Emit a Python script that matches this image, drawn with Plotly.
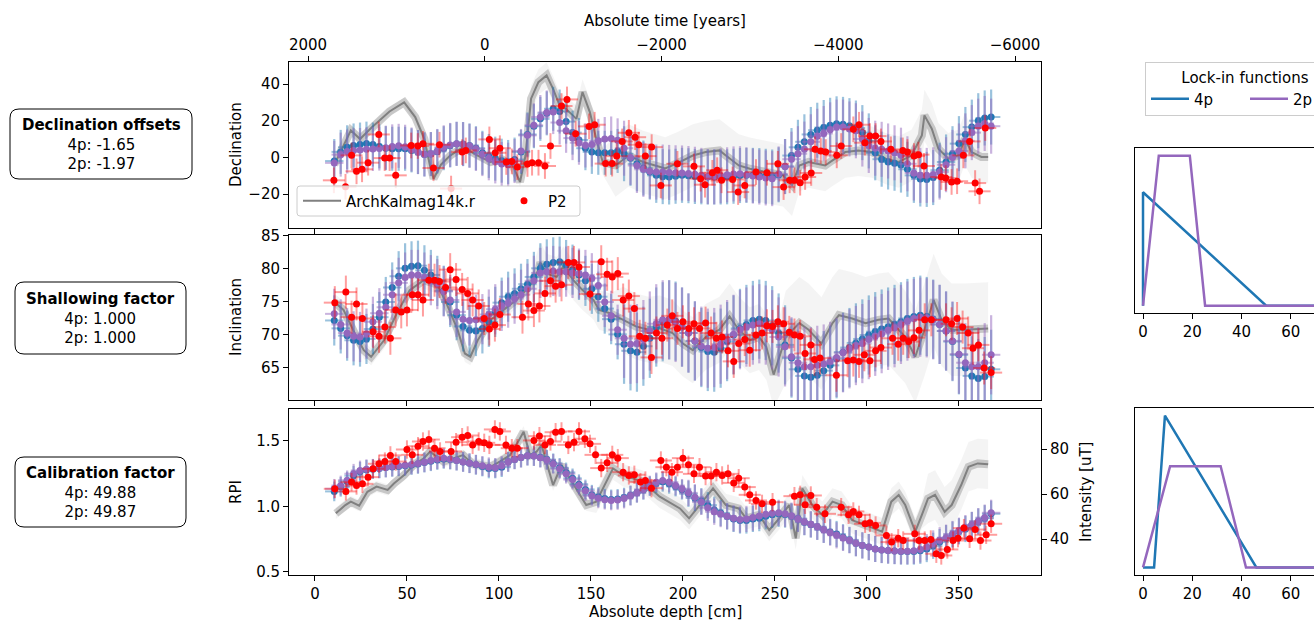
import plotly.graph_objects as go

W, H = 1314, 623

# ------------------------------------------------------------------ data
# model (lock-in 4p / 2p) predictions at sample depths [cm]
model_depth = [10.5, 14, 17.5, 21, 24.5, 28, 31.5, 35, 38.5, 42,
               45.5, 49, 52.5, 56, 59.5, 63, 66.5, 70, 73.5, 77,
               80.5, 84, 87.5, 91, 94.5, 98, 101.5, 105, 108.5, 112,
               115.5, 119, 122.5, 126, 129.5, 133, 136.5, 140, 143.5, 147,
               150.5, 154, 157.5, 161, 164.5, 168, 171.5, 175, 178.5, 182,
               185.5, 189, 192.5, 196, 199.5, 203, 206.5, 210, 213.5, 217,
               220.5, 224, 227.5, 231, 234.5, 238, 241.5, 245, 248.5, 252,
               255.5, 259, 262.5, 266, 269.5, 273, 276.5, 280, 283.5, 287,
               290.5, 294, 297.5, 301, 304.5, 308, 311.5, 315, 318.5, 322,
               325.5, 329, 332.5, 336, 339.5, 343, 346.5, 350, 353.5, 357,
               360.5, 364, 367.5]

dec_4p = [-2, 3, 5.5, 6.5, 7, 7.5, 7, 6, 5, 4.7,
          4.7, 4.7, 3.8, 2.9, 1.6, 1.8, 3.2, 5, 6.5, 7.4,
          7.3, 6.5, 5, 2.5, 0.8, -0.7, -1.8, -2.5, -1.2, 3,
          12.5, 17, 21, 24, 26.5, 25, 19.5, 13.5, 9.5, 5,
          3, 2.5, 2.5, 2.5, 3.5, 2, -0.5, -3.5, -5.8, -8,
          -9.8, -10.5, -10.7, -10.3, -9.8, -10, -10.4, -10.6, -10.7, -10.7,
          -10.7, -10.6, -10.3, -9.9, -9.8, -9.8, -9.9, -10.3, -10.7, -9.5,
          -5, 1, 5.5, 8.5, 12.5, 14.8, 16.3, 17.5, 18.3, 18,
          17.3, 16, 13.5, 9, 2.5, -1, -2.5, -3.2, -4.2, -6.5,
          -9.8, -11.8, -12, -11, -7, -2.5, 2, 7.5, 12.5, 16.5,
          20, 21.5, 22]
dec_2p = [-3, 1.5, 3.2, 3.8, 4, 4.4, 4.6, 4.8, 5.3, 6,
          6.3, 5.8, 4.3, 2.9, 1.6, 1.8, 3.5, 5.5, 6.8, 7.4,
          7.2, 6.3, 4.6, 1.8, -0.5, -2.2, -3.6, -4, -2, 3.5,
          12, 17.5, 22, 24.5, 24.7, 19, 14.5, 10.5, 8, 6.5,
          7, 9, 10, 10.3, 9.3, 5, 0, -4.4, -6.5, -7.5,
          -8, -8, -8.2, -8.4, -8.5, -8.8, -9.2, -9.8, -10.5, -10.6,
          -10, -9.5, -9, -8.9, -9.5, -10.2, -10.7, -11.2, -11.6, -9,
          -5, -1, 2, 4.5, 8.5, 11.5, 13, 15, 16.5, 16.5,
          15.5, 14.5, 10, 6.5, 5, 4.4, 3.5, 2.5, 1.2, -3.5,
          -8.5, -9.8, -9.8, -9.5, -8, -4, 0, 3.5, 9, 13.5,
          17, 18.5, 17]
inc_4p = [72.2, 71, 69.9, 69.2, 69, 69.4, 70.9, 72.7, 75, 77.2,
          78.9, 80.1, 80.4, 80.5, 79.8, 79.1, 78.2, 76.7, 75, 73,
          71.3, 70.7, 70.6, 71, 72, 73.5, 74.9, 75.8, 76.3, 77,
          77.7, 78.8, 80.1, 80.7, 81, 81.1, 80.6, 79.9, 79.1, 78.2,
          77, 75.8, 74, 72.4, 70.1, 68.6, 67.6, 67.4, 68.3, 69.5,
          71.2, 72, 72.3, 72.1, 71.2, 70.3, 69.1, 68.1, 67.5, 67.4,
          68, 69, 70, 71, 71.6, 72.2, 72.4, 72.2, 71.4, 70.3,
          68.5, 66.5, 64.8, 63.8, 63.6, 63.9, 64.6, 65.4, 66.4, 67.4,
          68.1, 68.8, 69.4, 70, 70.5, 70.9, 71.2, 71.6, 72, 72.5,
          72.8, 73, 72.8, 72.4, 71.6, 70.6, 69, 67, 65, 63.8,
          63.4, 63.7, 64.8]
inc_2p = [73.2, 71.6, 70.3, 69.8, 69.7, 70.2, 72, 73.3, 74.2, 76.1,
          77.9, 78.7, 79.1, 79.1, 78.7, 78.3, 77.7, 76.6, 75.3, 73.5,
          72.4, 72.2, 72.3, 72.4, 73.1, 73.9, 74.4, 74.9, 75.5, 76.1,
          77, 78.2, 79.4, 79.6, 79.7, 79.6, 79.6, 79.4, 79.3, 79.1,
          78.6, 77.5, 75, 72.9, 70.8, 69.5, 68.6, 68.7, 69.3, 70.6,
          71.7, 72.3, 72.3, 71.9, 71.2, 70.3, 69.1, 68.3, 68, 68.1,
          68.6, 69.3, 70.1, 70.8, 71.2, 71.5, 71.7, 71.5, 70.8, 69.7,
          68.2, 66.7, 65.8, 65.2, 65.2, 65.4, 65.6, 66, 66.6, 67.3,
          67.9, 68.4, 68.7, 69.3, 69.8, 70.2, 70.7, 71.1, 71.6, 72.1,
          72.5, 72.7, 72.6, 72.3, 71.6, 70.6, 69.1, 67.1, 65.8, 65.2,
          65.2, 65.8, 67]
rpi_4p = [1.115, 1.15, 1.19, 1.235, 1.265, 1.28, 1.285, 1.29, 1.297, 1.302,
          1.306, 1.311, 1.317, 1.325, 1.335, 1.345, 1.355, 1.363, 1.358, 1.35,
          1.34, 1.33, 1.318, 1.305, 1.29, 1.29, 1.3, 1.34, 1.36, 1.373,
          1.388, 1.385, 1.375, 1.358, 1.33, 1.295, 1.26, 1.215, 1.17, 1.13,
          1.09, 1.072, 1.06, 1.054, 1.058, 1.068, 1.085, 1.105, 1.127, 1.155,
          1.178, 1.188, 1.173, 1.152, 1.128, 1.097, 1.065, 1.04, 1.01, 0.975,
          0.95, 0.925, 0.905, 0.893, 0.893, 0.905, 0.911, 0.925, 0.937, 0.944,
          0.938, 0.925, 0.907, 0.88, 0.862, 0.845, 0.822, 0.806, 0.79, 0.765,
          0.745, 0.72, 0.703, 0.69, 0.676, 0.668, 0.664, 0.66, 0.657, 0.656,
          0.656, 0.662, 0.675, 0.7, 0.728, 0.758, 0.785, 0.81, 0.828, 0.858,
          0.885, 0.91, 0.944]
rpi_2p = [1.135, 1.16, 1.2, 1.25, 1.275, 1.285, 1.288, 1.292, 1.298, 1.305,
          1.31, 1.314, 1.32, 1.328, 1.337, 1.35, 1.36, 1.368, 1.36, 1.35,
          1.34, 1.33, 1.32, 1.31, 1.3, 1.295, 1.31, 1.34, 1.36, 1.373,
          1.388, 1.385, 1.372, 1.355, 1.325, 1.288, 1.25, 1.205, 1.16, 1.118,
          1.082, 1.062, 1.052, 1.046, 1.05, 1.06, 1.082, 1.105, 1.13, 1.16,
          1.185, 1.198, 1.186, 1.16, 1.135, 1.104, 1.07, 1.035, 0.99, 0.96,
          0.942, 0.925, 0.91, 0.9, 0.905, 0.915, 0.928, 0.94, 0.948, 0.952,
          0.944, 0.93, 0.905, 0.882, 0.865, 0.845, 0.822, 0.8, 0.78, 0.76,
          0.742, 0.72, 0.703, 0.69, 0.676, 0.668, 0.664, 0.66, 0.658, 0.658,
          0.662, 0.672, 0.69, 0.718, 0.742, 0.762, 0.79, 0.815, 0.835, 0.86,
          0.888, 0.915, 0.952]

# model uncertainties (estimated half-widths)
dec_model_err = [12.0] * 45 + [15.0] * 58
inc_model_err = [3.8] * 45 + [6.0] * 58
rpi_model_err = [0.075] * 55 + [0.1] * 48
model_depth_err = 5.0

# P2 sediment data
p2_dec_depth = [10.3, 16.6, 19.9, 22.6, 25.6, 28.9, 34.7, 37.9, 40.6, 43.9,
                52.3, 55.9, 58.7, 64.4, 67.7, 74, 80, 82, 94.8, 98,
                100.5, 104, 107, 110, 115.5, 118, 121.5, 125, 128, 134,
                137, 141.7, 149, 152, 158, 161.5, 164, 167, 170.6, 174,
                176, 179.6, 183, 188, 197, 206, 209.6, 212, 216, 218.6,
                221, 227, 230, 233.6, 239.7, 245.7, 251.6, 254.7, 258, 260.6,
                263.7, 266.4, 269.7, 271.8, 274.9, 277.6, 283.6, 286, 292.6, 295.7,
                298.9, 301.6, 304.7, 307.6, 313, 319.5, 322, 325.6, 328, 331,
                340.4, 342.8, 346, 349, 352.4, 355.8, 358.8, 361.2, 364.3]
p2_dec = [-12.5, -16, 1.1, -7.6, -6.5, -2.9, 12.5, -0.4, -0.4, -9.8,
          6.5, 6.2, 7.4, -5.8, 6.9, -17, 2.9, 3.8, 9.8, 2.5,
          5, -2.5, -2.2, -5.3, -3.6, -2.9, -2.9, -4.7, 6.2, 28,
          31.6, 12.9, 16.9, 17.8, -3.4, -3.4, 0.7, 8.7, 13.4, 11,
          6.9, 0.7, 5.6, -15.3, -3.5, -4.9, -11.6, -14.9, -8.4, -7,
          -12.5, -12, -18.9, -15.3, -8, -8.4, -3.5, -16.2, -12.5, -12.5,
          -13.8, -10.7, -8.5, 4.4, 3.5, 2.9, 1.1, 6.2, 15.3, 17.8,
          8, 11.6, 11.6, 8.7, 4.4, 3.8, 2.9, 0.7, 1.5, -4.7,
          -10.7, -11.3, -13.4, -13, 1.1, 8.7, -14, -18.5, 16]
p2_inc_depth = [10.8, 16.8, 19.9, 22.6, 25.8, 31.6, 34.8, 38, 41, 43.9,
                46.9, 50, 52.9, 56, 58.7, 61.9, 65, 67.7, 71, 73.5,
                76.7, 80, 83, 85.7, 89, 92, 94.8, 97.8, 100.5, 112.8,
                116, 119, 122, 125, 128, 130.8, 134, 137.7, 140.8, 143.5,
                149.5, 155.6, 158.8, 161.6, 164.6, 167.5, 170.6, 173.6, 176.5, 179.6,
                182.9, 185.6, 188.6, 191.5, 194.2, 197, 200, 203.2, 206, 209,
                212.3, 215.3, 218.2, 221.3, 224.5, 227.6, 230.3, 233.6, 236.3, 239.7,
                243, 245.7, 248.7, 251.6, 254.7, 257.8, 260.6, 263.7, 266.4, 269.5,
                271.5, 274.5, 283.4, 289.5, 292.6, 295.7, 298.6, 301.6, 304.7, 307.6,
                313.9, 317, 319.7, 322.7, 325.6, 328.3, 331.4, 335, 343, 346,
                349, 352, 355, 357.6, 360.6, 363.7, 367.5]
p2_inc = [74.9, 76.5, 72.7, 74.7, 72.5, 70.5, 69.8, 71.2, 69.5, 73.8,
          73.5, 73.8, 76.1, 76.1, 75.3, 78.3, 78.3, 78.1, 77.2, 79.9,
          78.4, 76.9, 76.3, 75.3, 74.4, 72.5, 70.9, 71.5, 73.1, 72.7,
          74.7, 73.7, 74.4, 76.3, 78.2, 77.4, 77.6, 81, 81, 80.3,
          76.2, 81.1, 79.2, 78.8, 79.3, 75.3, 75.9, 74, 69.8, 69.5,
          66.6, 70.3, 69.5, 71.5, 72.9, 71, 72, 71, 71.7, 71,
          71.8, 70.3, 69.5, 69.7, 67.6, 66, 68.7, 69.3, 67.7, 70,
          70.3, 71.4, 71.3, 72, 71.7, 70.4, 70, 69.8, 67.2, 68.5,
          66.3, 66.5, 63.9, 66.1, 66.2, 66, 67, 66.1, 67.6, 68.1,
          69.5, 68.6, 69.5, 69, 69.6, 70.7, 72.3, 72.3, 72.3, 71.7,
          72.5, 71.2, 70.3, 68, 68.5, 65, 64.3]
p2_rpi_depth = [10.8, 16.8, 19.9, 22.6, 25.8, 28.9, 31.6, 34.8, 38, 41,
                43.9, 50, 52.9, 56, 58.7, 61.9, 65, 68, 74, 76.7,
                80, 83, 85.7, 89, 92, 94.8, 97.8, 100.5, 103.8, 107,
                110, 119, 122, 125, 128, 130.8, 134, 137.7, 140.8, 143.5,
                146.7, 149.5, 152.5, 155.6, 158.8, 161.6, 164.6, 167.5, 170.6, 173.6,
                176.9, 179.6, 182.9, 188, 191, 194, 197, 200, 203, 206,
                209, 212.3, 215.3, 218.2, 221.3, 224.5, 227.6, 230.3, 233.6, 236.3,
                239.7, 243, 248.7, 260.6, 263.7, 266.4, 269.5, 272.7, 277.2, 286,
                290, 292.6, 295.7, 299, 301.6, 304.7, 310.6, 313.4, 317, 319.7,
                326, 328.3, 331.4, 334.7, 337.7, 340.4, 343.7, 346.8, 349.5, 352.7,
                355.8, 358.8, 361.7, 364.8, 367.5]
p2_rpi = [1.135, 1.115, 1.186, 1.16, 1.173, 1.224, 1.288, 1.326, 1.343, 1.39,
          1.343, 1.435, 1.394, 1.46, 1.496, 1.511, 1.445, 1.42, 1.42, 1.491,
          1.529, 1.542, 1.47, 1.496, 1.486, 1.47, 1.588, 1.573, 1.47, 1.445,
          1.445, 1.504, 1.537, 1.47, 1.496, 1.567, 1.573, 1.47, 1.491, 1.573,
          1.517, 1.478, 1.394, 1.293, 1.333, 1.394, 1.369, 1.262, 1.237, 1.242,
          1.186, 1.198, 1.14, 1.351, 1.3, 1.262, 1.3, 1.369, 1.318, 1.249,
          1.3, 1.232, 1.232, 1.262, 1.237, 1.249, 1.18, 1.216, 1.148, 1.089,
          1.046, 1.02, 1.033, 1.079, 1.089, 1.013, 1.084, 0.995, 0.944, 0.995,
          0.936, 0.962, 0.936, 0.868, 0.875, 0.855, 0.779, 0.728, 0.758, 0.74,
          0.791, 0.74, 0.74, 0.748, 0.639, 0.626, 0.672, 0.74, 0.758, 0.835,
          0.753, 0.824, 0.74, 0.784, 0.868]
p2_dec_err, p2_inc_err, p2_rpi_err, p2_depth_err = 7.0, 2.5, 0.07, 6.0

# ArchKalmag14k.r (time axis, years)
gray_dec_t = [1702, 1515, 1411, 1286, 1078, 912, 787, 683, 620, 579,
              496, 392, 246, 80, -66, -191, -316, -399, -461, -524,
              -607, -700, -773, -850, -919, -1037, -1106, -1189, -1262, -1335,
              -1480, -1626, -1792, -1938, -2042, -2188, -2354, -2500, -2656, -2728,
              -2874, -2999, -3186, -3373, -3477, -3560, -3664, -3852, -3935, -4080,
              -4226, -4382, -4538, -4684, -4829, -4946, -4975, -5058, -5133, -5245,
              -5360, -5432, -5509, -5620, -5696]
gray_dec = [-4, 14.7, 10, 16, 25, 30, 22, 10, -4.4, -11.6,
            -4, 1, 5.6, 1, -2.5, -1, -4.4, -13.4, 1, 32,
            41, 44.7, 37.4, 28, 26.5, 21, 35.6, 24.7, 10, -2.5,
            -4.4, 1, -2.5, -4.4, -6, -3, 1, 2.9, 3.8, 1,
            -4.4, -6.2, -8, -9.8, -15, -4.4, -2.5, -4.4, -1.6, 2.9,
            3.8, 2.9, -0.7, -2.5, 1, 12, 22.9, 15.6, 4.7, -0.7,
            1, 10, 2.9, 0.2, 0.2]
gray_dec_spread = [2.5] * 18 + [7] * 12 + [17] * 15 + [14] * 20

gray_inc_t = [1702, 1598, 1473, 1369, 1286, 1140, 995, 849, 689, 537,
              433, 308, 225, 163, 80, -66, -212, -357, -503, -607,
              -628, -700, -815, -888, -1002, -1106, -1231, -1293, -1418, -1564,
              -1709, -1855, -1980, -2125, -2242, -2354, -2500, -2656, -2770, -2874,
              -2999, -3103, -3186, -3269, -3406, -3560, -3664, -3810, -3935, -4008,
              -4157, -4309, -4455, -4569, -4758, -4871, -4975, -5079, -5170, -5283,
              -5432, -5696]
gray_inc = [75, 73.8, 70.3, 67.7, 66.7, 69.2, 73.3, 76.8, 78.3, 77.6,
            74.8, 70.8, 67.2, 66.7, 69.2, 72.3, 73.8, 75.3, 77.3, 79.8,
            81, 79.3, 78.8, 80.4, 78.3, 76.8, 75.3, 73.8, 73.3, 72.3,
            71.3, 70.8, 71, 70.3, 68.7, 67.7, 69.7, 70.8, 72.8, 70.8,
            69.2, 69.7, 68.2, 64, 69.7, 71.8, 70.8, 68.7, 71.8, 73,
            72.5, 71.8, 72.3, 72.5, 69.7, 66.7, 70.8, 75.3, 72.3, 70.8,
            70.8, 71]
gray_inc_spread = [1.3] * 19 + [3] * 10 + [5] * 15 + [7] * 18

gray_int_t = [1685, 1577, 1515, 1421, 1328, 1224, 1099, 1028, 912, 808,
              689, 620, 464, 350, 246, 142, 59, -66, -170, -286,
              -378, -440, -511, -586, -642, -719, -773, -869, -960, -1075,
              -1148, -1262, -1376, -1451, -1564, -1788, -1980, -2208, -2312, -2431,
              -2583, -2728, -2874, -2957, -3103, -3219, -3332, -3444, -3519, -3594,
              -3706, -3820, -3935, -4039, -4157, -4309, -4413, -4496, -4600, -4684,
              -4758, -4871, -4946, -5016, -5095, -5204, -5283, -5391, -5474, -5578,
              -5696]
gray_int = [51.4, 55.1, 56.6, 54.8, 61, 63.3, 61.8, 64.7, 68.4, 72.9,
            75.9, 78.8, 74.4, 75.9, 77.3, 73.6, 72.9, 72.1, 74.4, 77.3,
            83.3, 87.7, 77.3, 78.8, 81.8, 71.4, 64, 72.9, 67, 59.6,
            55.1, 56.6, 65.5, 71.4, 68.4, 65.5, 58.8, 53.6, 49.2, 55.1,
            62.5, 55.1, 53.6, 49.2, 50.7, 44, 49.2, 55.1, 40.3, 62.5,
            55.1, 50.7, 56.6, 55.1, 48.4, 46.2, 44.7, 43.3, 56.6, 59.6,
            55.1, 43.3, 50.7, 58, 59.6, 52.1, 55.1, 64, 72.1, 73.6,
            73.2]
gray_int_spread = [2.5] * 31 + [5] * 18 + [6] * 14 + [11] * 8

# lock-in functions (depth offset [cm] vs weight)
lock_dec_4p_x = [0, 0, 50, 70]
lock_dec_4p_y = [0, 0.04, 0, 0]
lock_dec_2p_x = [0, 6.4, 19, 25.2, 70]
lock_dec_2p_y = [0, 0.0529, 0.0529, 0, 0]
lock_rpi_4p_x = [0, 4.5, 8.9, 46, 70]
lock_rpi_4p_y = [0, 0, 0.0482, 0, 0]
lock_rpi_2p_x = [0, 11, 31.5, 41.8, 70]
lock_rpi_2p_y = [0, 0.0321, 0.0321, 0, 0]

box_texts = [
    "<b>Declination offsets</b><br>4p: -1.65<br>2p: -1.97",
    "<b>Shallowing factor</b><br>4p: 1.000<br>2p: 1.000",
    "<b>Calibration factor</b><br>4p: 49.88<br>2p: 49.87",
]

# ------------------------------------------------------------------ figure
BLUE, PURPLE, RED, GRAY = '#1f77b4', '#9467bd', '#ff0000', '#808080'
BLUE_E, PURPLE_E, RED_E = 'rgba(31,119,180,0.45)', 'rgba(148,103,189,0.5)', 'rgba(255,0,0,0.38)'
FONT = 'DejaVu Sans'


def px(x):
    return x / W


def py(y):
    return 1 - y / H


fig = go.Figure()


def add_gray(t, mean, spread, xa, ya, legend=False):
    upper = [m + s for m, s in zip(mean, spread)]
    lower = [m - s for m, s in zip(mean, spread)]
    fig.add_trace(go.Scatter(x=t, y=upper, xaxis=xa, yaxis=ya, mode='lines',
                             line=dict(width=0, color='rgba(0,0,0,0)'), hoverinfo='skip', showlegend=False))
    fig.add_trace(go.Scatter(x=t, y=lower, xaxis=xa, yaxis=ya, mode='lines',
                             line=dict(width=0, color='rgba(0,0,0,0)'), fill='tonexty',
                             fillcolor='rgba(150,150,150,0.10)', hoverinfo='skip', showlegend=False))
    fig.add_trace(go.Scatter(x=t, y=mean, xaxis=xa, yaxis=ya, mode='lines',
                             line=dict(width=8, color='rgba(95,95,95,0.30)'), hoverinfo='skip', showlegend=False))
    fig.add_trace(go.Scatter(x=t, y=mean, xaxis=xa, yaxis=ya, mode='lines', name='ArchKalmag14k.r',
                             line=dict(width=2, color=GRAY), showlegend=legend, legend='legend'))


def add_model(vals, err, color, ecolor, xa, ya):
    fig.add_trace(go.Scatter(x=model_depth, y=vals, xaxis=xa, yaxis=ya, mode='markers',
                             marker=dict(color=color, size=7, line=dict(width=0)),
                             error_y=dict(type='data', array=err, color=ecolor, thickness=2.2, width=0),
                             error_x=dict(type='constant', value=model_depth_err, color=ecolor, thickness=2, width=0),
                             showlegend=False))


def add_p2(depth, vals, err, xa, ya, legend=False):
    fig.add_trace(go.Scatter(x=depth, y=vals, xaxis=xa, yaxis=ya, mode='markers', name='P2',
                             marker=dict(color=RED, size=7, line=dict(width=0)),
                             error_y=dict(type='constant', value=err, color=RED_E, thickness=2, width=0),
                             error_x=dict(type='constant', value=p2_depth_err, color=RED_E, thickness=2, width=0),
                             showlegend=legend, legend='legend3'))


# Declination panel: base = time axis x / y, overlay = depth x4
add_gray(gray_dec_t, gray_dec, gray_dec_spread, 'x', 'y', legend=True)
add_model(dec_4p, dec_model_err, BLUE, BLUE_E, 'x4', 'y')
add_model(dec_2p, dec_model_err, PURPLE, PURPLE_E, 'x4', 'y')
add_p2(p2_dec_depth, p2_dec, p2_dec_err, 'x4', 'y', legend=True)

# Inclination panel
add_gray(gray_inc_t, gray_inc, gray_inc_spread, 'x2', 'y2')
add_model(inc_4p, inc_model_err, BLUE, BLUE_E, 'x5', 'y2')
add_model(inc_2p, inc_model_err, PURPLE, PURPLE_E, 'x5', 'y2')
add_p2(p2_inc_depth, p2_inc, p2_inc_err, 'x5', 'y2')

# RPI panel: base = time x3 / intensity y3 (right), overlay = depth x6 / RPI y6
add_gray(gray_int_t, gray_int, gray_int_spread, 'x3', 'y3')
add_model(rpi_4p, rpi_model_err, BLUE, BLUE_E, 'x6', 'y6')
add_model(rpi_2p, rpi_model_err, PURPLE, PURPLE_E, 'x6', 'y6')
add_p2(p2_rpi_depth, p2_rpi, p2_rpi_err, 'x6', 'y6')

# lock-in functions
fig.add_trace(go.Scatter(x=lock_dec_4p_x, y=lock_dec_4p_y, xaxis='x7', yaxis='y7', mode='lines', name='4p',
                         line=dict(color=BLUE, width=2.5), legend='legend2'))
fig.add_trace(go.Scatter(x=lock_dec_2p_x, y=lock_dec_2p_y, xaxis='x7', yaxis='y7', mode='lines', name='2p',
                         line=dict(color=PURPLE, width=2.5), legend='legend2'))
fig.add_trace(go.Scatter(x=lock_rpi_4p_x, y=lock_rpi_4p_y, xaxis='x8', yaxis='y8', mode='lines', name='4p',
                         line=dict(color=BLUE, width=2.5), showlegend=False))
fig.add_trace(go.Scatter(x=lock_rpi_2p_x, y=lock_rpi_2p_y, xaxis='x8', yaxis='y8', mode='lines', name='2p',
                         line=dict(color=PURPLE, width=2.5), showlegend=False))

# ------------------------------------------------------------------ axes
AX = dict(showline=True, linecolor='black', linewidth=1, ticks='outside', ticklen=5, tickwidth=1,
          tickcolor='black', showgrid=False, zeroline=False, tickfont=dict(size=15, color='black', family=FONT))
main_dom = [px(289), px(1041)]
depth_range = [-14.1, 394.6]
time_range = [2215, -6294]
depth_ticks = [0, 50, 100, 150, 200, 250, 300, 350]

layout_axes = dict(
    xaxis=dict(AX, domain=main_dom, range=time_range, side='top', anchor='y', showline=False,
               tickvals=[2000, 0, -2000, -4000, -6000], ticktext=['2000', '0', '\u22122000', '\u22124000', '\u22126000']),
    yaxis=dict(AX, domain=[py(228), py(62)], range=[-38.5, 52], anchor='x', mirror=True,
               tickvals=[-20, 0, 20, 40], ticktext=['\u221220', '0', '20', '40']),
    xaxis4=dict(AX, overlaying='x', anchor='y', side='bottom', range=depth_range, mirror=True,
                tickvals=depth_ticks, showticklabels=False),
    xaxis2=dict(AX, domain=main_dom, range=time_range, anchor='y2', visible=False),
    yaxis2=dict(AX, domain=[py(400), py(235)], range=[60.15, 85.15], anchor='x2', mirror=True,
                tickvals=[65, 70, 75, 80, 85]),
    xaxis5=dict(AX, overlaying='x2', anchor='y2', side='bottom', range=depth_range, mirror=True,
                tickvals=depth_ticks, showticklabels=False),
    xaxis3=dict(AX, domain=main_dom, range=time_range, anchor='y3', visible=False),
    yaxis3=dict(AX, domain=[py(575), py(409)], range=[24, 97.8], anchor='x3', side='right', showline=False,
                tickvals=[40, 60, 80]),
    xaxis6=dict(AX, overlaying='x3', anchor='y3', side='bottom', range=depth_range, mirror=True,
                tickvals=depth_ticks),
    yaxis6=dict(AX, overlaying='y3', anchor='x3', side='left', range=[0.477, 1.744], mirror=True,
                tickvals=[0.5, 1.0, 1.5], ticktext=['0.5', '1.0', '1.5']),
    xaxis7=dict(AX, domain=[px(1135), 1.0], anchor='y7', range=[-3.25, 69.4], mirror=True,
                tickvals=[0, 20, 40, 60]),
    yaxis7=dict(AX, domain=[py(313), py(148)], anchor='x7', range=[-0.0026, 0.0556], ticks='',
                showticklabels=False),
    xaxis8=dict(AX, domain=[px(1135), 1.0], anchor='y8', range=[-3.25, 69.4], mirror=True,
                tickvals=[0, 20, 40, 60]),
    yaxis8=dict(AX, domain=[py(575), py(408)], anchor='x8', range=[-0.0024, 0.0506], ticks='',
                showticklabels=False),
)


# ------------------------------------------------------------------ boxes & titles
def rrect(x0, y0, x1, y1, r):
    X0, X1, Yt, Yb = px(x0), px(x1), py(y0), py(y1)
    rx, ry = r / W, r / H
    return (f"M {X0 + rx},{Yt} L {X1 - rx},{Yt} Q {X1},{Yt} {X1},{Yt - ry} "
            f"L {X1},{Yb + ry} Q {X1},{Yb} {X1 - rx},{Yb} L {X0 + rx},{Yb} "
            f"Q {X0},{Yb} {X0},{Yb + ry} L {X0},{Yt - ry} Q {X0},{Yt} {X0 + rx},{Yt} Z")


boxes = [(10, 109, 192, 179), (15, 282, 186, 354), (15, 457, 186, 527)]
shapes = [dict(type='path', xref='paper', yref='paper', path=rrect(*b, 9),
               line=dict(color='black', width=1), fillcolor='white', layer='below') for b in boxes]
# frame of the in-panel legend (ArchKalmag14k.r / P2)
shapes.append(dict(type='path', xref='paper', yref='paper', path=rrect(297, 186, 580, 216, 3),
                   line=dict(color='#cccccc', width=1), fillcolor='rgba(255,255,255,0.8)', layer='above'))

annotations = []
for (x0, y0, x1, y1), txt in zip(boxes, box_texts):
    annotations.append(dict(x=px((x0 + x1) / 2), y=py((y0 + y1) / 2), xref='paper', yref='paper',
                            text=txt, showarrow=False, align='center', xanchor='center', yanchor='middle',
                            font=dict(size=15, color='black', family=FONT)))

titles = [
    ("Absolute time [years]", 665, 21, 0),
    ("Absolute depth [cm]", 665, 612, 0),
    ("Declination", 236, 145, -90),
    ("Inclination", 236, 317, -90),
    ("RPI", 236, 492, -90),
    ("Intensity [uT]", 1086, 492, -90),
]
for txt, x, y, ang in titles:
    annotations.append(dict(x=px(x), y=py(y), xref='paper', yref='paper', text=txt, showarrow=False,
                            textangle=ang, xanchor='center', yanchor='middle',
                            font=dict(size=15, color='black', family=FONT)))

LEG_FONT = dict(size=15, family=FONT, color='black')
fig.update_layout(
    width=W, height=H, margin=dict(l=0, r=0, t=0, b=0, autoexpand=False), template='none',
    paper_bgcolor='white', plot_bgcolor='white',
    font=dict(family=FONT, size=15, color='black'),
    shapes=shapes, annotations=annotations,
    legend=dict(x=px(298), y=py(201), xanchor='left', yanchor='middle', orientation='h',
                bgcolor='rgba(0,0,0,0)', borderwidth=0, itemwidth=38, font=LEG_FONT),
    legend3=dict(x=px(500), y=py(201), xanchor='left', yanchor='middle', orientation='h',
                 bgcolor='rgba(0,0,0,0)', borderwidth=0, itemwidth=38, font=LEG_FONT),
    legend2=dict(x=px(1145), y=py(62), xanchor='left', yanchor='top', orientation='h', traceorder='normal',
                 bgcolor='white', bordercolor='#cccccc', borderwidth=1,
                 entrywidth=46, itemwidth=38, font=LEG_FONT,
                 title=dict(text='Lock-in functions', side='top center', font=dict(size=15, family=FONT))),
    showlegend=True,
    **layout_axes,
)

fig.write_html("out.html", config={'displayModeBar': False},
               post_script="document.body.style.margin='0px';document.body.style.overflow='hidden';")
